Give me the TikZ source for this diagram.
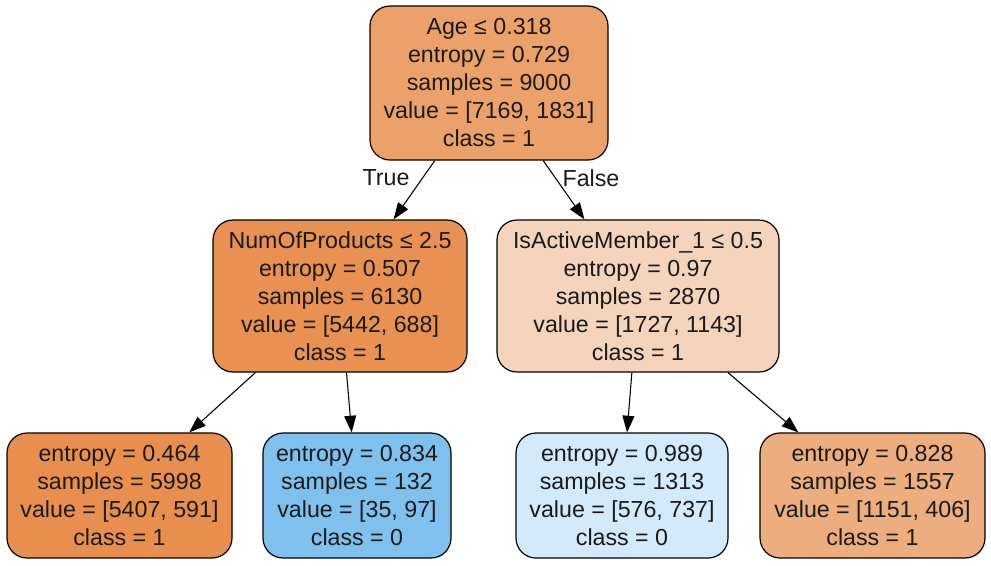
\documentclass[tikz,border=0pt]{standalone}
\usepackage{fontspec}
\setmainfont{Liberation Sans}
\usetikzlibrary{arrows.meta}
\definecolor{cRoot}{HTML}{ECA16B}
\definecolor{cNum}{HTML}{E89152}
\definecolor{cAct}{HTML}{F6D4BC}
\definecolor{cLa}{HTML}{E88F4F}
\definecolor{cLb}{HTML}{80C0EE}
\definecolor{cLc}{HTML}{D4E9F9}
\definecolor{cLd}{HTML}{EEAD7F}
\definecolor{txt}{HTML}{1A1A1A}
\tikzset{
  treenode/.style={draw=black, line width=0.9pt, rounded corners=15pt, align=center,
    font=\fontsize{17.4pt}{21pt}\selectfont, text=txt, inner sep=0pt},
  edgelab/.style={font=\fontsize{17.4pt}{21pt}\selectfont, text=txt, inner sep=0pt},
  conn/.style={draw=black, line width=0.8pt, -{Triangle[length=12.5pt,width=9pt]}}
}
\begin{document}
\begin{tikzpicture}[x=0.75pt,y=-0.75pt]
\useasboundingbox (0,0) rectangle (991,565);
\node[treenode, fill=cRoot, minimum width=238*0.75pt, minimum height=154*0.75pt] (root) at (489,83)
  {Age ≤ 0.318\\entropy = 0.729\\samples = 9000\\value = [7169, 1831]\\class = 1};
\node[treenode, fill=cNum, minimum width=254*0.75pt, minimum height=152*0.75pt] (num) at (340,296)
  {NumOfProducts ≤ 2.5\\entropy = 0.507\\samples = 6130\\value = [5442, 688]\\class = 1};
\node[treenode, fill=cAct, minimum width=282*0.75pt, minimum height=152*0.75pt] (act) at (638,296)
  {IsActiveMember\_1 ≤ 0.5\\entropy = 0.97\\samples = 2870\\value = [1727, 1143]\\class = 1};
\node[treenode, fill=cLa, minimum width=225*0.75pt, minimum height=125*0.75pt] (la) at (119.5,495.5)
  {entropy = 0.464\\samples = 5998\\value = [5407, 591]\\class = 1};
\node[treenode, fill=cLb, minimum width=188*0.75pt, minimum height=125*0.75pt] (lb) at (357,495.5)
  {entropy = 0.834\\samples = 132\\value = [35, 97]\\class = 0};
\node[treenode, fill=cLc, minimum width=212*0.75pt, minimum height=125*0.75pt] (lc) at (622,495.5)
  {entropy = 0.989\\samples = 1313\\value = [576, 737]\\class = 0};
\node[treenode, fill=cLd, minimum width=225*0.75pt, minimum height=125*0.75pt] (ld) at (872.5,495.5)
  {entropy = 0.828\\samples = 1557\\value = [1151, 406]\\class = 1};
\draw[conn] (root) -- (num);
\draw[conn] (root) -- (act);
\draw[conn] (num) -- (la);
\draw[conn] (num) -- (lb);
\draw[conn] (act) -- (lc);
\draw[conn] (act) -- (ld);
\node[edgelab] (ltrue) at (386,178) {True};
\node[edgelab] (lfalse) at (591,178) {False};
\end{tikzpicture}
\end{document}
